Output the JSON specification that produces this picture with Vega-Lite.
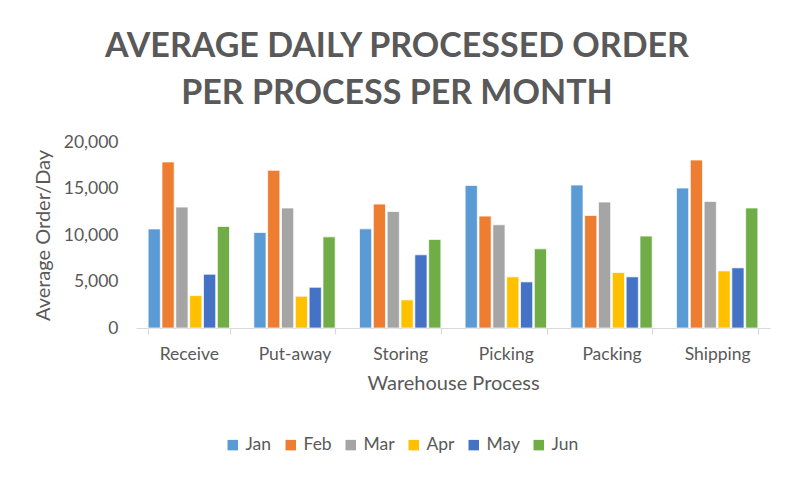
{
  "$schema": "https://vega.github.io/schema/vega-lite/v6.json",
  "width": 634,
  "height": 186,
  "autosize": {"type": "none"},
  "padding": {"left": 136, "top": 142, "right": 25, "bottom": 150},
  "background": "white",
  "title": {
    "text": ["AVERAGE DAILY PROCESSED ORDER", "PER PROCESS PER MONTH"],
    "anchor": "middle",
    "dx": -56,
    "offset": 22,
    "font": "Lato",
    "fontSize": 34,
    "fontWeight": "bold",
    "color": "#595959",
    "lineHeight": 47
  },
  "data": {
    "values": [
      {"process": "Receive", "month": "Jan", "value": 10650},
      {"process": "Receive", "month": "Feb", "value": 17850},
      {"process": "Receive", "month": "Mar", "value": 13000},
      {"process": "Receive", "month": "Apr", "value": 3480},
      {"process": "Receive", "month": "May", "value": 5780},
      {"process": "Receive", "month": "Jun", "value": 10920},
      {"process": "Put-away", "month": "Jan", "value": 10270},
      {"process": "Put-away", "month": "Feb", "value": 16950},
      {"process": "Put-away", "month": "Mar", "value": 12900},
      {"process": "Put-away", "month": "Apr", "value": 3410},
      {"process": "Put-away", "month": "May", "value": 4380},
      {"process": "Put-away", "month": "Jun", "value": 9800},
      {"process": "Storing", "month": "Jan", "value": 10660},
      {"process": "Storing", "month": "Feb", "value": 13320},
      {"process": "Storing", "month": "Mar", "value": 12530},
      {"process": "Storing", "month": "Apr", "value": 3020},
      {"process": "Storing", "month": "May", "value": 7870},
      {"process": "Storing", "month": "Jun", "value": 9520},
      {"process": "Picking", "month": "Jan", "value": 15330},
      {"process": "Picking", "month": "Feb", "value": 12030},
      {"process": "Picking", "month": "Mar", "value": 11100},
      {"process": "Picking", "month": "Apr", "value": 5500},
      {"process": "Picking", "month": "May", "value": 4960},
      {"process": "Picking", "month": "Jun", "value": 8510},
      {"process": "Packing", "month": "Jan", "value": 15370},
      {"process": "Packing", "month": "Feb", "value": 12100},
      {"process": "Packing", "month": "Mar", "value": 13540},
      {"process": "Packing", "month": "Apr", "value": 5960},
      {"process": "Packing", "month": "May", "value": 5500},
      {"process": "Packing", "month": "Jun", "value": 9880},
      {"process": "Shipping", "month": "Jan", "value": 15050},
      {"process": "Shipping", "month": "Feb", "value": 18060},
      {"process": "Shipping", "month": "Mar", "value": 13610},
      {"process": "Shipping", "month": "Apr", "value": 6140},
      {"process": "Shipping", "month": "May", "value": 6470},
      {"process": "Shipping", "month": "Jun", "value": 12900}
    ]
  },
  "mark": {"type": "bar", "stroke": "white", "strokeWidth": 0.7},
  "encoding": {
    "x": {
      "field": "process",
      "type": "nominal",
      "sort": ["Receive", "Put-away", "Storing", "Picking", "Packing", "Shipping"],
      "scale": {"paddingInner": 0.23, "paddingOuter": 0.115},
      "title": "Warehouse Process",
      "axis": {
        "labelAngle": 0,
        "labelFont": "Lato",
        "labelFontSize": 17.5,
        "labelColor": "#595959",
        "labelPadding": 11,
        "titleFont": "Lato",
        "titleFontSize": 20,
        "titleFontWeight": "normal",
        "titleColor": "#595959",
        "titlePadding": 11,
        "domainColor": "#d9d9d9",
        "domainWidth": 1.2,
        "tickColor": "#d9d9d9",
        "tickBand": "extent",
        "tickSize": 6,
        "tickWidth": 1.2
      }
    },
    "xOffset": {
      "field": "month",
      "type": "nominal",
      "sort": ["Jan", "Feb", "Mar", "Apr", "May", "Jun"],
      "scale": {"paddingInner": 0.12}
    },
    "y": {
      "field": "value",
      "type": "quantitative",
      "scale": {"domain": [0, 20000]},
      "title": "Average Order/Day",
      "axis": {
        "values": [0, 5000, 10000, 15000, 20000],
        "format": ",d",
        "grid": false,
        "domain": false,
        "ticks": false,
        "labelFont": "Lato",
        "labelFontSize": 17.5,
        "labelColor": "#595959",
        "labelPadding": 18,
        "titleFont": "Lato",
        "titleFontSize": 20,
        "titleFontWeight": "normal",
        "titleColor": "#595959",
        "titlePadding": 10
      }
    },
    "color": {
      "field": "month",
      "type": "nominal",
      "sort": ["Jan", "Feb", "Mar", "Apr", "May", "Jun"],
      "scale": {
        "domain": ["Jan", "Feb", "Mar", "Apr", "May", "Jun"],
        "range": ["#5B9BD5", "#ED7D31", "#A5A5A5", "#FFC000", "#4472C4", "#70AD47"]
      },
      "legend": {
        "title": null,
        "orient": "none",
        "direction": "horizontal",
        "legendX": 88,
        "legendY": 294,
        "symbolType": "square",
        "symbolSize": 110,
        "symbolStrokeWidth": 0,
        "labelFont": "Lato",
        "labelFontSize": 17.5,
        "labelColor": "#595959",
        "columnPadding": 10,
        "labelOffset": 4
      }
    }
  },
  "config": {
    "view": {"stroke": null}
  }
}
